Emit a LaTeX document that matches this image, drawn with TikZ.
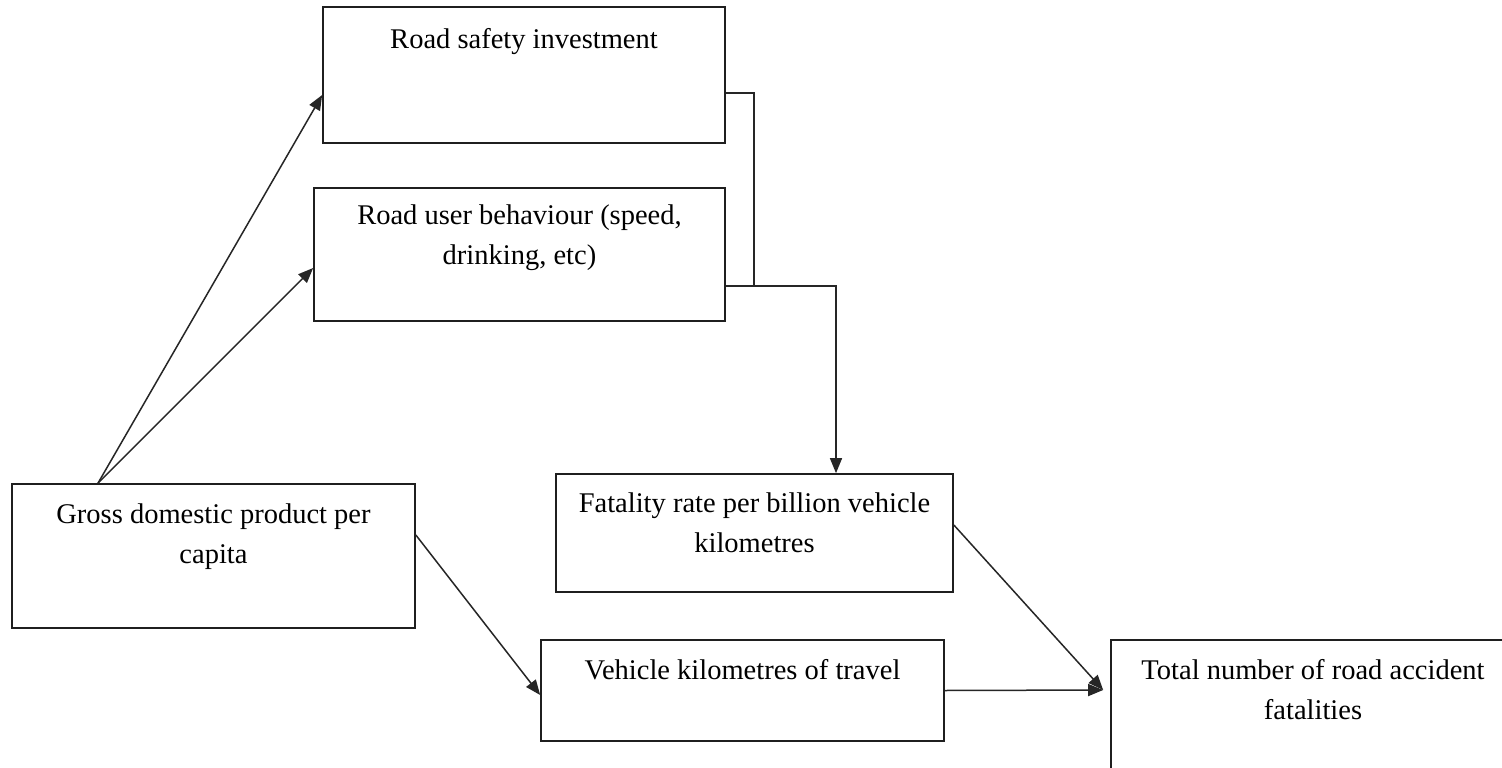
\documentclass[tikz,border=0pt]{standalone}
\usepackage{fontspec}
\setmainfont{Liberation Serif}
\usetikzlibrary{arrows.meta}
\begin{document}
\begin{tikzpicture}[x=1pt,y=-1pt,
  box/.style={draw=black!88,line width=1.7pt,inner sep=0pt,minimum width=#1},
  txt/.style={inner sep=0pt,align=center,anchor=north,font={\fontsize{28.5pt}{40pt}\selectfont}},
  conn/.style={draw=black!85,line width=1.5pt},
  arr/.style={conn,-{Triangle[length=15pt,width=12pt]}}]
\clip (0,0) rectangle (1502,768);
\fill[white] (0,0) rectangle (1502,768);
% boxes
\node[box=402pt,minimum height=136pt] (rsi) at (524,75) {};
\node[box=411pt,minimum height=133pt] (rub) at (519.5,254.5) {};
\node[box=403pt,minimum height=144pt] (gdp) at (213.5,556) {};
\node[box=397pt,minimum height=118pt] (fat) at (754.5,533) {};
\node[box=403pt,minimum height=101pt] (veh) at (742.5,690.5) {};
\node[box=404pt,minimum height=150pt] (tot) at (1313,715) {};
% texts
\node[txt] (rsit) at ([yshift=-22pt]rsi.north) {Road safety investment};
\node[txt] (rubt) at ([yshift=-17pt]rub.north) {Road user behaviour (speed,\\drinking, etc)};
\node[txt] (gdpt) at ([yshift=-20pt]gdp.north) {Gross domestic product per\\capita};
\node[txt] (fatt) at ([yshift=-19pt]fat.north) {Fatality rate per billion vehicle\\kilometres};
\node[txt] (veht) at ([yshift=-20pt]veh.north) {Vehicle kilometres of travel};
\node[txt] (tott) at ([yshift=-20pt]tot.north) {Total number of road accident\\fatalities};
% connector points
\coordinate (gsrc) at ([xshift=-115.5pt]gdp.north);
\coordinate (tin) at ([xshift=-7pt,yshift=25pt]tot.west);
% connectors
\draw[arr] (gsrc) -- ([yshift=-20pt]rsi.west);
\draw[arr] (gsrc) -- ([yshift=-13.5pt]rub.west);
\draw[conn] ([yshift=-18pt]rsi.east) -| ([xshift=28pt,yshift=-31.5pt]rub.east);
\draw[arr] ([yshift=-31.5pt]rub.east) -| ([xshift=81.5pt]fat.north);
\draw[arr] ([yshift=21pt]gdp.east) -- ([yshift=-4.5pt]veh.west);
\draw[arr] ([yshift=8pt]fat.east) -- (tin);
\draw[arr] (veh.east) -- (tin);
\end{tikzpicture}
\end{document}
